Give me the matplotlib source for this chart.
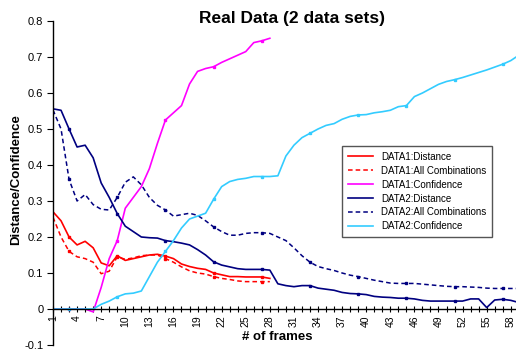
"""Real data comparison: distance / confidence curves for two data sets."""

import numpy as np
import matplotlib
matplotlib.use('Agg')
import matplotlib.pyplot as plt

plt.rcParams['font.family'] = ['Liberation Sans', 'DejaVu Sans']

# frames 1..59 (set 2), set 1 stops at frame 28
frames2 = np.arange(1, 60)
frames1 = np.arange(1, 29)

data1_distance = [0.27, 0.245, 0.20, 0.178, 0.188, 0.17, 0.128, 0.12, 0.148, 0.135,
                  0.14, 0.145, 0.15, 0.152, 0.147, 0.14, 0.125, 0.118, 0.113, 0.11,
                  0.10, 0.095, 0.09, 0.09, 0.089, 0.089, 0.089, 0.085]
data1_allcomb = [0.255, 0.20, 0.16, 0.145, 0.14, 0.13, 0.098, 0.105, 0.145, 0.138,
                 0.142, 0.148, 0.15, 0.15, 0.14, 0.13, 0.117, 0.106, 0.10, 0.097,
                 0.09, 0.085, 0.082, 0.078, 0.076, 0.076, 0.076, 0.076]
data1_conf = [0, 0, 0, 0, 0, -0.008, 0.06, 0.14, 0.19, 0.28,
              0.31, 0.34, 0.39, 0.46, 0.525, 0.545, 0.565, 0.625, 0.66, 0.668,
              0.673, 0.685, 0.695, 0.705, 0.715, 0.74, 0.745, 0.752]

data2_distance = [0.556, 0.552, 0.50, 0.45, 0.455, 0.42, 0.35, 0.31, 0.265, 0.23,
                  0.215, 0.20, 0.198, 0.197, 0.19, 0.187, 0.183, 0.178, 0.165, 0.15,
                  0.131, 0.122, 0.117, 0.112, 0.11, 0.11, 0.11, 0.108, 0.07, 0.065,
                  0.062, 0.065, 0.065, 0.058, 0.055, 0.052, 0.046, 0.043, 0.042, 0.04,
                  0.035, 0.033, 0.032, 0.03, 0.03, 0.028, 0.024, 0.022, 0.022, 0.022,
                  0.022, 0.022, 0.028, 0.028, 0.004, 0.025, 0.027, 0.024, 0.018]
data2_allcomb = [0.553, 0.50, 0.36, 0.30, 0.318, 0.29, 0.277, 0.275, 0.31, 0.352,
                 0.367, 0.345, 0.31, 0.288, 0.275, 0.258, 0.262, 0.266, 0.26, 0.245,
                 0.228, 0.215, 0.205, 0.205, 0.21, 0.212, 0.212, 0.21, 0.20, 0.19,
                 0.17, 0.148, 0.13, 0.118, 0.112, 0.107, 0.10, 0.094, 0.09, 0.085,
                 0.08, 0.076, 0.072, 0.071, 0.071, 0.071, 0.069, 0.067, 0.065, 0.063,
                 0.062, 0.062, 0.061, 0.06, 0.058, 0.057, 0.057, 0.057, 0.057]
data2_conf = [0, 0, 0, 0, 0, 0, 0.013, 0.022, 0.034, 0.042,
              0.044, 0.05, 0.09, 0.13, 0.16, 0.19, 0.225, 0.25, 0.258, 0.266,
              0.305, 0.34, 0.354, 0.36, 0.363, 0.368, 0.368, 0.368, 0.37, 0.425,
              0.455, 0.476, 0.488, 0.50, 0.51, 0.515, 0.527, 0.535, 0.539, 0.54,
              0.545, 0.548, 0.552, 0.562, 0.565, 0.59, 0.60, 0.612, 0.624, 0.632,
              0.637, 0.643, 0.65, 0.657, 0.664, 0.672, 0.68, 0.69, 0.705]

RED = '#ff0000'
MAGENTA = '#ff00ff'
NAVY = '#000080'
CYAN = '#33ccff'

fig = plt.figure(figsize=(5.16, 3.5), dpi=100)
ax = fig.add_axes([53 / 516, 5 / 350, 1 - 53 / 516, 324 / 350])

mk = dict(marker='s', markersize=1.8, markevery=(2, 6))
ax.plot(frames1, data1_distance, color=RED, lw=1.2, label='DATA1:Distance', **mk)
ax.plot(frames1, data1_allcomb, color=RED, lw=1.1, ls=(0, (3, 2)),
        label='DATA1:All Combinations', **mk)
ax.plot(frames1, data1_conf, color=MAGENTA, lw=1.2, label='DATA1:Confidence', **mk)
ax.plot(frames2, data2_distance, color=NAVY, lw=1.2, label='DATA2:Distance', **mk)
ax.plot(frames2, data2_allcomb, color=NAVY, lw=1.1, ls=(0, (3, 2)),
        label='DATA2:All Combinations', **mk)
ax.plot(frames2, data2_conf, color=CYAN, lw=1.2, label='DATA2:Confidence', **mk)

ax.set_xlim(1, 58.65)
ax.set_ylim(-0.1, 0.8)

ax.spines['top'].set_visible(False)
ax.spines['right'].set_visible(False)
ax.spines['bottom'].set_position(('data', 0))
ax.spines['left'].set_linewidth(1.0)
ax.spines['bottom'].set_linewidth(1.0)

ax.set_xticks(frames2[:58])
ax.set_xticklabels([str(f) if (f - 1) % 3 == 0 else '' for f in frames2[:58]],
                   rotation=90, fontsize=7.5)
ax.tick_params(axis='x', direction='inout', length=5, width=0.8, pad=2)
yt = [-0.1, 0, 0.1, 0.2, 0.3, 0.4, 0.5, 0.6, 0.7, 0.8]
ax.set_yticks(yt)
ax.set_yticklabels(['-0.1', '0', '0.1', '0.2', '0.3', '0.4', '0.5', '0.6', '0.7', '0.8'],
                   fontsize=8)
ax.tick_params(axis='y', direction='out', length=4, width=0.8, pad=3)

fig.text(292 / 516, 1 - 18 / 350, 'Real Data (2 data sets)', fontsize=12.5,
         fontweight='bold', ha='center', va='center')
fig.text(277 / 516, 1 - 337 / 350, '# of frames', fontsize=9.5,
         fontweight='bold', ha='center', va='center')
fig.text(16 / 516, 1 - 180 / 350, 'Distance/Confidence', fontsize=9.5,
         fontweight='bold', ha='center', va='center', rotation=90)

leg = ax.legend(loc='upper left', bbox_to_anchor=(342 / 516, 1 - 146 / 350),
                bbox_transform=fig.transFigure, borderaxespad=0, fontsize=7,
                fancybox=False, framealpha=1, edgecolor='#555555',
                handlelength=2.6, labelspacing=0.4, borderpad=0.6,
                markerscale=0)
leg.get_frame().set_linewidth(1.0)

plt.savefig('out.png', dpi=100)
plt.close()
